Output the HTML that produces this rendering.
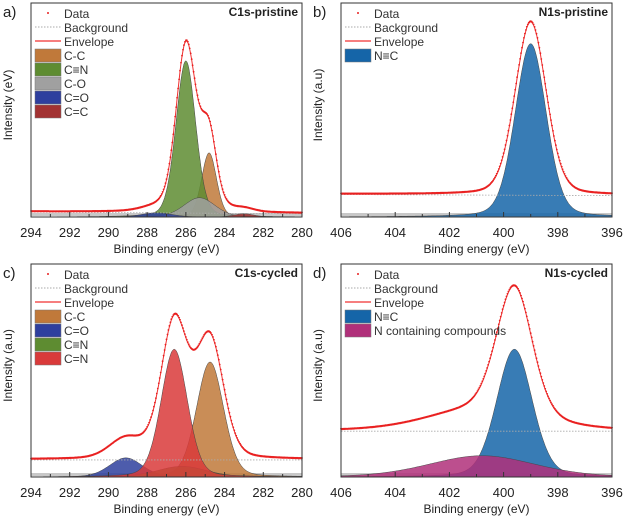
<!DOCTYPE html>
<html><head><meta charset="utf-8"><style>
body{margin:0;background:#fff;width:623px;height:521px;overflow:hidden}
svg{display:block;font-family:"Liberation Sans",sans-serif}
</style></head><body>
<svg id="chart" width="623" height="521" viewBox="0 0 623 521"></svg>
<script>
// Panel a: C1s pristine
const aXTicks=[294,292,290,288,286,284,282,280];
const aNames=["C-C","C≡N","C-O","C=O","C=C"];
const aColors=["#c0793a","#5e8c31","#a0a0a0","#2e3f9e","#a23232"];
const aCenters=[284.8,286.0,285.3,287.5,283.0];
const aHeights=[30,73,9,2,1.5];
const aFwhm=[0.9,1.2,1.9,1.8,1.2];
const aBg=[2.3,1.5];
// Panel b: N1s pristine
const bXTicks=[406,404,402,400,398,396];
const bNames=["N≡C"];
const bColors=["#1565a8"];
const bCenters=[399.0];
const bHeights=[81];
const bFwhm=[1.35];
const bBg=[10.5,10];
// Panel c: C1s cycled
const cXTicks=[294,292,290,288,286,284,282,280];
const cNames=["C-C","C=O","C≡N","C=N"];
const cColors=["#c0793a","#2e3f9e","#5e8c31","#d93a3a"];
const cCenters=[284.75,289.1,286.2,286.6];
const cHeights=[54,9,5,60];
const cFwhm=[1.65,2.0,3.0,1.6];
const cBg=[8,8];
// Panel d: N1s cycled
const dXTicks=[406,404,402,400,398,396];
const dNames=["N≡C","N containing compounds"];
const dColors=["#1565a8","#b0307a"];
const dCenters=[399.6,400.8];
const dHeights=[60,10];
const dFwhm=[1.55,4.6];
const dBg=[21.5,21.5];

const NS="http://www.w3.org/2000/svg";
const svg=document.getElementById('chart');
function el(tag,attrs,parent,text){const e=document.createElementNS(NS,tag);for(const k in attrs)e.setAttribute(k,attrs[k]);if(text!==undefined)e.textContent=text;(parent||svg).appendChild(e);return e;}

function panel(o){
  const g=el('g',{});
  
  
  const x0=o.x0,x1=o.x1,y0=o.y0,y1=o.y1;
  const xMax=o.ticks[0],xMin=o.ticks[o.ticks.length-1];
  const X=v=>x0+(xMax-v)/(xMax-xMin)*(x1-x0);
  const Y=v=>y1-v/100*(y1-y0);
  const eta=0.2;
  const gauss=(i,v)=>{const u=(v-o.c[i])/o.w[i];return o.h[i]*((1-eta)*Math.exp(-4*Math.LN2*u*u)+eta/(1+4*u*u));};
  const bg=v=>o.bg[0]+(o.bg[1]-o.bg[0])*(xMax-v)/(xMax-xMin);
  const N=280,xs=[];for(let k=0;k<=N;k++)xs.push(xMax-(xMax-xMin)*k/N);
  const bl=el('rect',{x:x0,y:y1-4,width:x1-x0,height:3,fill:'#c8c8c8'},g);
  
  
  o.c.forEach((c,i)=>{
    let d='M'+X(xMax)+','+Y(0);
    xs.forEach(v=>{d+=' L'+X(v).toFixed(1)+','+Y(gauss(i,v)).toFixed(1);});
    d+=' L'+X(xMin)+','+Y(0)+' Z';
    const p=el('path',{d:d,fill:o.col[i],'fill-opacity':0.85,stroke:'#444','stroke-width':0.5},g);
    
    
  });
  const bgl=el('line',{x1:X(xMax),x2:X(xMin),y1:Y(o.bg[0]),y2:Y(o.bg[1]),stroke:'#aaa','stroke-width':0.8,'stroke-dasharray':'1.5,1.5'},g);
  
  
  const env=v=>{let s=bg(v);o.c.forEach((c,i)=>s+=gauss(i,v));return s;};
  let d='';xs.forEach((v,k)=>{d+=(k?' L':'M')+X(v).toFixed(1)+','+Y(env(v)).toFixed(1);});
  const ep=el('path',{d:d,fill:'none',stroke:'#f03030','stroke-width':1},g);
  
  
  const dg=el('g',{fill:'#e82020'},g);
  
  
  for(let k=0;k<=N;k+=1){const v=xs[k];el('circle',{cx:X(v).toFixed(1),cy:(Y(env(v))-0.8).toFixed(1),r:0.9},dg);}
  const fr=el('rect',{x:x0,y:y0,width:x1-x0,height:y1-y0,fill:'none',stroke:'#333','stroke-width':1},g);
  
  
  for(let v=xMin;v<=xMax;v++){
    const maj=o.ticks.includes(v);
    el('line',{x1:X(v),x2:X(v),y1:y1,y2:y1-(maj?5:3),stroke:'#333','stroke-width':1},g);
  }
  o.ticks.forEach(v=>{
    const t=el('text',{x:X(v),y:y1+20,'text-anchor':'middle','font-size':13,fill:'#222'},g,String(v));
    
    
  });
  const xt=el('text',{x:(x0+x1)/2,y:y1+36,'text-anchor':'middle','font-size':12,fill:'#222'},g,'Binding energy (eV)');
  
  
  const cy=(y0+y1)/2-5;
  const yt=el('text',{x:x0-19,y:cy,'text-anchor':'middle','font-size':12,fill:'#222',transform:'rotate(-90 '+(x0-19)+' '+cy+')'},g,o.ytitle);
  
  
  const pl=el('text',{x:x0-28,y:y0+14,'font-size':15,fill:'#222'},g,o.label);
  
  
  const ti=el('text',{x:x1-4,y:y0+13,'text-anchor':'end','font-size':12,'font-weight':'bold',fill:'#222'},g,o.title);
  
  
  const lg=el('g',{'font-size':12,fill:'#333'},g);
  
  
  const lx=x0+4,tx=x0+33;
  let ly=y0+15;
  el('circle',{cx:lx+13,cy:ly-5,r:1,fill:'#e82020'},lg);
  el('text',{x:tx,y:ly},lg,'Data');ly+=14;
  el('line',{x1:lx,x2:lx+26,y1:ly-5,y2:ly-5,stroke:'#aaa','stroke-dasharray':'1.5,1.5'},lg);
  el('text',{x:tx,y:ly},lg,'Background');ly+=14;
  el('line',{x1:lx,x2:lx+26,y1:ly-5,y2:ly-5,stroke:'#f03030','stroke-width':1.2},lg);
  el('text',{x:tx,y:ly},lg,'Envelope');ly+=14;
  o.names.forEach((n,i)=>{
    const r=el('rect',{x:lx,y:ly-11,width:26,height:13,fill:o.col[i],stroke:'#777','stroke-width':0.5},lg);
    
    
    el('text',{x:tx,y:ly},lg,n);ly+=14;
  });
}
panel({id:'c1s-pristine',x0:31,x1:302,y0:3,y1:217,ticks:aXTicks,names:aNames,col:aColors,c:aCenters,h:aHeights,w:aFwhm,bg:aBg,label:'a)',title:'C1s-pristine',ytitle:'Intensity (eV)'});
panel({id:'n1s-pristine',x0:341,x1:612,y0:3,y1:217,ticks:bXTicks,names:bNames,col:bColors,c:bCenters,h:bHeights,w:bFwhm,bg:bBg,label:'b)',title:'N1s-pristine',ytitle:'Intensity (a.u)'});
panel({id:'c1s-cycled',x0:31,x1:302,y0:264,y1:477,ticks:cXTicks,names:cNames,col:cColors,c:cCenters,h:cHeights,w:cFwhm,bg:cBg,label:'c)',title:'C1s-cycled',ytitle:'Intensity (a.u)'});
panel({id:'n1s-cycled',x0:341,x1:612,y0:264,y1:477,ticks:dXTicks,names:dNames,col:dColors,c:dCenters,h:dHeights,w:dFwhm,bg:dBg,label:'d)',title:'N1s-cycled',ytitle:'Intensity (a.u)'});
</script>
</body></html>
